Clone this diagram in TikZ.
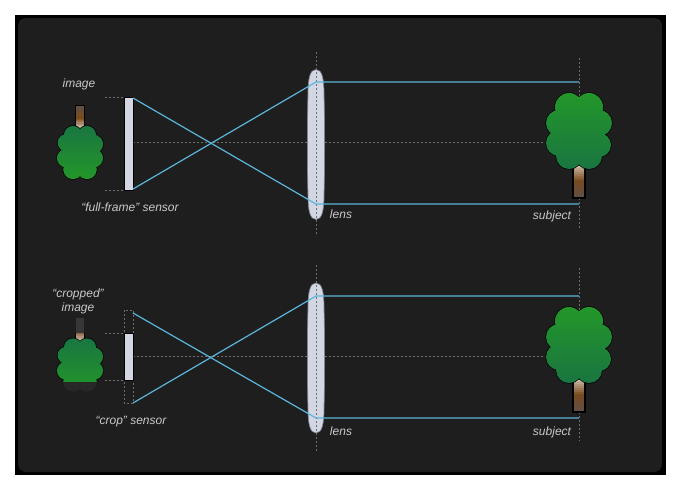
\documentclass[tikz,border=0pt]{standalone}
\usepackage{fontspec}
\setmainfont{Liberation Sans}
\usepackage{tikz}
\definecolor{bgdark}{HTML}{1E1E1E}
\definecolor{raycol}{HTML}{5BB6DB}
\definecolor{axiscol}{HTML}{6E6E6E}
\definecolor{glass}{HTML}{D3D6E3}
\definecolor{glassrim}{HTML}{7E8294}
\definecolor{labelcol}{HTML}{C9C9C9}
\definecolor{leafhi}{HTML}{23972A}
\definecolor{leaflo}{HTML}{1A7540}
\definecolor{barkhi}{HTML}{E6DED6}
\definecolor{barkmid}{HTML}{7A4A1E}
\definecolor{barklo}{HTML}{5E5048}
\definecolor{fadeA}{HTML}{282828}
\definecolor{fadeB}{HTML}{363636}

\begin{document}
\begin{tikzpicture}[x=1pt, y=-1pt,
    axis/.style={axiscol, line width=0.8pt, dash pattern=on 2pt off 2pt},
    ray/.style={raycol, line width=1.2pt},
    sensorbox/.style={fill=glass, draw=black, line width=1pt},
    lbl/.style={text=labelcol, font=\fontsize{12}{14}\selectfont\itshape, inner sep=0pt, align=center},
    treeline/.style={draw=black, line width=1.3pt},
    leaftint/.style={fill=leafhi!#1!leaflo},
    barktop/.style={fill=barkhi!#1!barkmid},
    barkbot/.style={fill=barkmid!#1!barklo},
    pics/tree/.style={code={
        \foreach \i in {0,...,9} {\pgfmathsetmacro\p{100-\i*10}
            \fill[barktop=\p] (-6,30+1.85*\i) rectangle (6,32.2+1.85*\i);}
        \foreach \i in {0,...,9} {\pgfmathsetmacro\p{100-\i*10}
            \fill[barkbot=\p] (-6,48.5+1.85*\i) rectangle (6,50.35+1.85*\i);}
        \draw[treeline] (-6,30) rectangle (6,67);
        \foreach \cx/\cy/\rad in {-10/-24/14, 10/-24/14, 20/-8/13, 20/14/12, 10/25/13, -10/25/13, -20/12/13, -20/-8/13, 0/0/22}
            \draw[treeline] (\cx,\cy) circle (\rad);
        \begin{scope}
            \clip \foreach \cx/\cy/\rad in {-10/-24/14, 10/-24/14, 20/-8/13, 20/14/12, 10/25/13, -10/25/13, -20/12/13, -20/-8/13, 0/0/22} {(\cx,\cy) circle (\rad)};
            \foreach \i in {0,...,19} {\pgfmathsetmacro\p{100-\i*100/19}
                \fill[leaftint=\p] (-36,-40+4*\i) rectangle (36,-35.6+4*\i);}
        \end{scope}
    }},
    pics/lens/.style={code={
        \draw[fill=glass, draw=glassrim, line width=0.7pt] (0,-75) .. controls (6,-75) and (8,-66) .. (8,-50)
            .. controls (8.8,-20) and (8.8,20) .. (8,50) .. controls (8,66) and (6,75) .. (0,75)
            .. controls (-6,75) and (-8,66) .. (-8,50) .. controls (-8.8,20) and (-8.8,-20) .. (-8,-50)
            .. controls (-8,-66) and (-6,-75) .. (0,-75) -- cycle;
    }}]

    % frame
    \fill[white] (0,0) rectangle (680,491);
    \useasboundingbox (0,0) rectangle (680,491);
    \fill[black] (15,15) rectangle (666,475);
    \fill[bgdark, rounded corners=8pt] (18,18) rectangle (662,472);

    % full-frame
    \coordinate (axisL1) at (133,142);
    \coordinate (axisR1) at (579,142);
    \coordinate (lensTop1) at (316,52);
    \coordinate (lensBot1) at (316,236);
    \coordinate (subTop1) at (579,58);
    \coordinate (subBot1) at (579,228);
    \coordinate (tickT1) at (105,97);
    \coordinate (tickB1) at (105,190);
    \coordinate (ffT) at (133,98);
    \coordinate (ffB) at (133,189);
    \coordinate (lensT1) at (316,82);
    \coordinate (lensB1) at (316,204);
    \coordinate (subT1) at (579,82);
    \coordinate (subB1) at (579,204);

    \draw[axis] (axisL1) -- (axisR1);
    \draw[axis] (tickT1) -- (124,97);
    \draw[axis] (tickB1) -- (124,190);
    \draw[axis] (subTop1) -- (subBot1);
    \draw[sensorbox] (124,97) rectangle (133,190);
    \pic at (316,144.5) {lens};
    \draw[axis] (lensTop1) -- (lensBot1);
    \draw[ray] (ffT) -- (lensB1) -- (subB1);
    \draw[ray] (ffB) -- (lensT1) -- (subT1);
    \pic at (579,131) {tree};
    \pic[scale=0.7, rotate=180] at (80,152.5) {tree};

    \node[lbl] (imgLbl) at (79,84) {image};
    \node[lbl] (ffLbl) at (130,207) {“full-frame” sensor};
    \node[lbl] (lensLbl1) at (341,214) {lens};
    \node[lbl] (subLbl1) at (552,216) {subject};

    % crop
    \coordinate (axisL2) at (133,356);
    \coordinate (axisR2) at (579,356);
    \coordinate (lensTop2) at (316,265);
    \coordinate (lensBot2) at (316,451);
    \coordinate (subTop2) at (579,268);
    \coordinate (subBot2) at (579,441);
    \coordinate (tickT2) at (105,333);
    \coordinate (tickB2) at (105,380);
    \coordinate (cropT) at (133,313);
    \coordinate (cropB) at (133,403);
    \coordinate (lensT2) at (316,296);
    \coordinate (lensB2) at (316,418);
    \coordinate (subT2) at (579,296);
    \coordinate (subB2) at (579,418);

    \draw[axis] (axisL2) -- (axisR2);
    \draw[axis] (tickT2) -- (124,333);
    \draw[axis] (tickB2) -- (124,380);
    \draw[axis] (subTop2) -- (subBot2);
    \draw[axis] (124,310) rectangle (133,403);
    \draw[sensorbox] (124,333) rectangle (133,380);
    \pic at (316,358) {lens};
    \draw[axis] (lensTop2) -- (lensBot2);
    \draw[ray] (cropT) -- (lensB2) -- (subB2);
    \draw[ray] (cropB) -- (lensT2) -- (subT2);
    \pic at (579,345) {tree};
    \pic[scale=0.7, rotate=180, treeline/.style={draw=none}, leaftint/.style={fill=fadeA},
        barktop/.style={fill=fadeB}, barkbot/.style={fill=fadeB}] at (80,365) {tree};
    \begin{scope}
        \clip (50,333) rectangle (110,381);
        \pic[scale=0.7, rotate=180] at (80,365) {tree};
    \end{scope}

    \node[lbl] (cropImg) at (78,301) {“cropped”\\image};
    \node[lbl] (cropLbl) at (131,422) {“crop” sensor};
    \node[lbl] (lensLbl2) at (341,431) {lens};
    \node[lbl] (subLbl2) at (552,432) {subject};
\end{tikzpicture}
\end{document}
